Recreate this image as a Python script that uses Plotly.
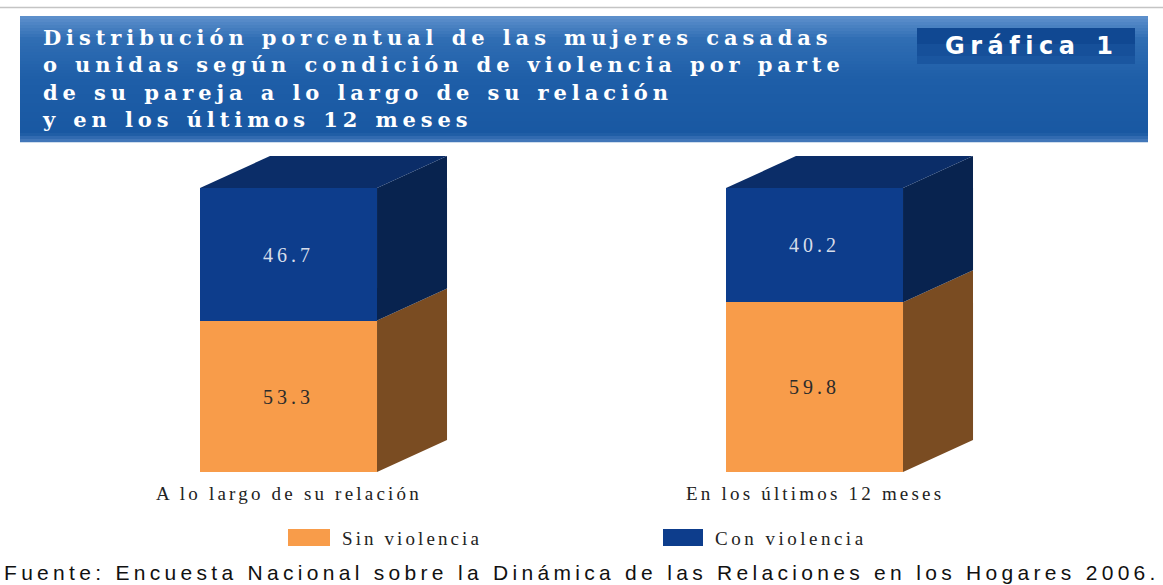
import plotly.graph_objects as go

# ---------------- data ----------------
categories = ["A lo largo de su relación", "En los últimos 12 meses"]
sin_violencia = [53.3, 59.8]
con_violencia = [46.7, 40.2]
series_names = ["Sin violencia", "Con violencia"]
title_lines = [
    "Distribución porcentual de las mujeres casadas",
    "o unidas según condición de violencia por parte",
    "de su pareja a lo largo de su relación",
    "y en los últimos 12 meses",
]
badge_text = "Gráfica 1"
source_text = "Fuente: Encuesta Nacional sobre la Dinámica de las Relaciones en los Hogares 2006."

# ---------------- style ----------------
W, H = 1163, 585
ORANGE = "#F89C4A"
ORANGE_SIDE = "#7A4C22"
BLUE = "#0D3D8C"
BLUE_SIDE = "#08234F"
BLUE_TOP = "#0B2D68"

BAR_W = 0.3365          # bar width in category units
DX = 0.1331             # 3D depth (x units)
DY = 11.27              # 3D depth (y units)
XR = [-0.5485, 1.6625]
YR = [-39.8, 166.2]


def px(x):
    return x / W


def py(y):
    return 1 - y / H


def ls(text, sp, ws=0):
    return f'<span style="letter-spacing:{sp}px;word-spacing:{ws}px">{text}</span>'


xs = list(range(len(categories)))
fig = go.Figure()

# front faces
fig.add_trace(go.Bar(
    x=xs, y=sin_violencia, name=series_names[0], width=BAR_W,
    marker=dict(color=ORANGE, line=dict(width=0)),
    text=[ls(f"{v:.1f}", 4) for v in sin_violencia],
    textposition="inside", insidetextanchor="middle", textangle=0,
    textfont=dict(family="Liberation Serif", size=20, color="#2B2B2B"),
    showlegend=False, hoverinfo="skip",
))
fig.add_trace(go.Bar(
    x=xs, y=con_violencia, name=series_names[1], width=BAR_W,
    marker=dict(color=BLUE, line=dict(width=0)),
    text=[ls(f"{v:.1f}", 4) for v in con_violencia],
    textposition="inside", insidetextanchor="middle", textangle=0,
    textfont=dict(family="Liberation Serif", size=20, color="#D6DDEA"),
    showlegend=False, hoverinfo="skip",
))

# 3D side and top faces derived from data
for i, x in enumerate(xs):
    x1 = x + BAR_W / 2
    x0 = x - BAR_W / 2
    base = 0.0
    for vals, col in ((sin_violencia, ORANGE_SIDE), (con_violencia, BLUE_SIDE)):
        top = base + vals[i]
        fig.add_trace(go.Scatter(
            x=[x1, x1 + DX, x1 + DX, x1, x1],
            y=[base, base + DY, top + DY, top, base],
            fill="toself", fillcolor=col, mode="lines",
            line=dict(width=0, color=col), showlegend=False, hoverinfo="skip",
        ))
        base = top
    fig.add_trace(go.Scatter(
        x=[x0, x0 + DX, x1 + DX, x1, x0],
        y=[base, base + DY, base + DY, base, base],
        fill="toself", fillcolor=BLUE_TOP, mode="lines",
        line=dict(width=0, color=BLUE_TOP), showlegend=False, hoverinfo="skip",
    ))

shapes = []
# thin grey rule at top
shapes.append(dict(type="line", xref="paper", yref="paper", x0=0, x1=1,
                   y0=py(7.5), y1=py(7.5), line=dict(color="#C4C4C4", width=1.5)))

# banner gradient
stops = [(0.0, (95, 145, 205)), (0.18, (48, 110, 180)), (0.5, (30, 94, 168)),
         (0.93, (25, 88, 162)), (1.0, (75, 125, 190))]


def interp(t):
    for (t0, c0), (t1, c1) in zip(stops[:-1], stops[1:]):
        if t0 <= t <= t1:
            f = (t - t0) / (t1 - t0) if t1 > t0 else 0
            return tuple(round(a + (b - a) * f) for a, b in zip(c0, c1))
    return stops[-1][1]


top_y, bot_y = 16, 142
n = 42
for k in range(n):
    y0 = top_y + (bot_y - top_y) * k / n
    y1 = top_y + (bot_y - top_y) * (k + 1) / n
    r, g, b = interp((k + 0.5) / n)
    shapes.append(dict(type="rect", xref="paper", yref="paper",
                       x0=px(20), x1=px(1148), y0=py(y1 + 0.3), y1=py(y0),
                       fillcolor=f"rgb({r},{g},{b})", line=dict(width=0), layer="below"))
# badge box
for a, b_, col in [(28, 44, "rgb(16,72,146)"), (44, 56, "rgb(22,80,154)"),
                   (56, 64, "rgb(26,86,160)")]:
    shapes.append(dict(type="rect", xref="paper", yref="paper",
                       x0=px(917), x1=px(1135), y0=py(b_), y1=py(a),
                       fillcolor=col, line=dict(width=0), layer="below"))

# legend swatches
shapes.append(dict(type="rect", xref="paper", yref="paper", x0=px(288), x1=px(330),
                   y0=py(546), y1=py(529), fillcolor=ORANGE, line=dict(width=0)))
shapes.append(dict(type="rect", xref="paper", yref="paper", x0=px(663), x1=px(703),
                   y0=py(546), y1=py(529), fillcolor=BLUE, line=dict(width=0)))

annotations = []
annotations.append(dict(
    xref="paper", yref="paper", x=px(40), y=py(23), xanchor="left", yanchor="top",
    align="left", showarrow=False,
    text=ls("<br>".join(title_lines), 4.9, 1),
    font=dict(family="DejaVu Serif", size=21, color="white", weight="bold"),
))
annotations.append(dict(
    xref="paper", yref="paper", x=px(1031), y=py(46), xanchor="center", yanchor="middle",
    showarrow=False, text=ls(badge_text, 5.5, 2),
    font=dict(family="DejaVu Sans", size=24, color="white", weight="bold"),
))
for i, c in enumerate(categories):
    annotations.append(dict(
        xref="x", yref="paper", x=xs[i], y=py(493), xanchor="center", yanchor="middle",
        showarrow=False, text=ls(c, 3.2),
        font=dict(family="Liberation Serif", size=19, color="#222222"),
    ))
annotations.append(dict(xref="paper", yref="paper", x=px(340), y=py(538), xanchor="left",
                        yanchor="middle", showarrow=False, text=ls(series_names[0], 3.1),
                        font=dict(family="Liberation Serif", size=19, color="#222222")))
annotations.append(dict(xref="paper", yref="paper", x=px(713), y=py(538), xanchor="left",
                        yanchor="middle", showarrow=False, text=ls(series_names[1], 3.5),
                        font=dict(family="Liberation Serif", size=19, color="#222222")))
annotations.append(dict(xref="paper", yref="paper", x=px(2), y=py(572), xanchor="left",
                        yanchor="middle", showarrow=False, text=ls(source_text, 4.3),
                        font=dict(family="Liberation Sans", size=21, color="#111111")))

fig.update_layout(
    width=W, height=H, margin=dict(l=0, r=0, t=0, b=0),
    paper_bgcolor="white", plot_bgcolor="white",
    barmode="stack", bargap=0,
    xaxis=dict(range=XR, visible=False, fixedrange=True),
    yaxis=dict(range=YR, visible=False, fixedrange=True),
    shapes=shapes, annotations=annotations, showlegend=False,
)

fig.write_html("out.html", config={"displayModeBar": False},
               post_script="document.body.style.margin='0';")
